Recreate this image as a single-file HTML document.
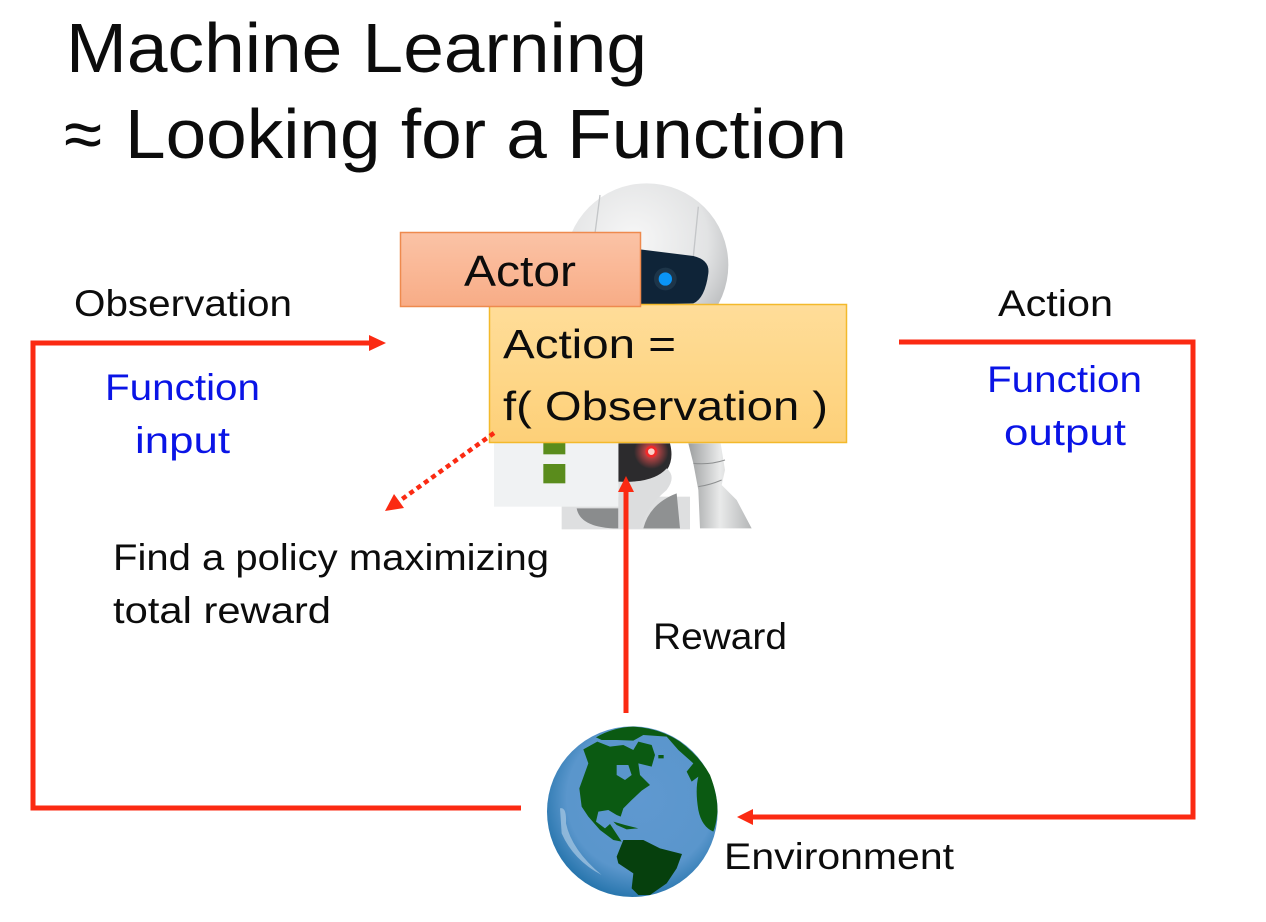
<!DOCTYPE html>
<html><head><meta charset="utf-8"><style>
html,body{margin:0;padding:0;background:#fff}
svg{display:block}
text{font-family:"Liberation Sans",sans-serif;fill:#0c0c0c}
</style></head><body>
<svg width="1266" height="922" viewBox="0 0 1266 922" xmlns="http://www.w3.org/2000/svg">
<defs>
<radialGradient id="head" cx="0.42" cy="0.35" r="0.7"><stop offset="0" stop-color="#f7f7f7"/><stop offset="0.65" stop-color="#e2e3e4"/><stop offset="1" stop-color="#b5b7b9"/></radialGradient>
<linearGradient id="actor" x1="0" y1="0" x2="0" y2="1"><stop offset="0" stop-color="#fbc3a6"/><stop offset="1" stop-color="#f8ac86"/></linearGradient>
<linearGradient id="yel" x1="0" y1="0" x2="0" y2="1"><stop offset="0" stop-color="#ffdd99"/><stop offset="1" stop-color="#fdd078"/></linearGradient>
<radialGradient id="globe" cx="0.55" cy="0.42" r="0.62"><stop offset="0" stop-color="#5f98d0"/><stop offset="0.7" stop-color="#5a96cc"/><stop offset="1" stop-color="#1f70a8"/></radialGradient>
<radialGradient id="glow"><stop offset="0.3" stop-color="#ff5050" stop-opacity=".7"/><stop offset="1" stop-color="#ff5050" stop-opacity="0"/></radialGradient>
<linearGradient id="limb" x1="0" y1="0" x2="1" y2="0"><stop offset="0" stop-color="#9d9fa0"/><stop offset="0.5" stop-color="#e9eaea"/><stop offset="1" stop-color="#b4b6b7"/></linearGradient>
</defs>
<rect width="1266" height="922" fill="#fff"/>

<text x="66" y="72" font-size="70" textLength="581" lengthAdjust="spacingAndGlyphs">Machine Learning</text>
<text x="64" y="158" font-size="70" textLength="38" lengthAdjust="spacingAndGlyphs">≈</text>
<text x="125" y="158" font-size="70" textLength="722" lengthAdjust="spacingAndGlyphs">Looking for a Function</text>

<!-- robot -->
<g transform="translate(480,170) scale(0.33333)">
<circle cx="500" cy="285" r="245" fill="url(#head)"/>
<path d="M360 75 L345 190 M655 110 L640 260" stroke="#c4c6c8" stroke-width="4" fill="none"/>
<path d="M480 238 L640 258 Q690 270 685 310 Q675 385 640 400 L480 405Z" fill="#0f2438"/>
<circle cx="556" cy="327" r="34" fill="#1d3549"/>
<circle cx="556" cy="327" r="20" fill="#0a94f5"/>
<rect x="245" y="980" width="385" height="98" fill="#dedfe0"/>
<path d="M290 1015 Q300 1070 400 1075 L415 1075 L415 1015Z" fill="#8a8c8d"/>
<path d="M490 1075 Q510 1000 590 970 L600 1075Z" fill="#8f9192"/>
<path d="M415 820 L570 820 Q590 900 520 930 L415 940Z" fill="#2c2b2d"/>
<path d="M415 935 Q520 940 560 895 Q590 920 560 960 Q500 1010 480 1075 L415 1075Z" fill="#dcddde"/>
<circle cx="514" cy="845" r="52" fill="url(#glow)"/>
<circle cx="514" cy="845" r="14" fill="#fbd0c8" stroke="#f02a2a" stroke-width="8"/>
<path d="M625 820 L722 820 L735 900 L725 945 L770 990 L815 1075 L660 1075 L655 960 L640 880Z" fill="url(#limb)"/>
<path d="M640 880 Q690 885 735 870 M655 950 Q690 945 725 930" stroke="#8d8f90" stroke-width="3" fill="none"/>
<rect x="42" y="815" width="373" height="195" fill="#f0f2f3"/>
<rect x="190" y="815" width="66" height="38" fill="#5a8c1c"/>
<rect x="190" y="882" width="66" height="58" fill="#5a8c1c"/>
</g>

<!-- boxes -->
<rect x="489.5" y="304.5" width="357" height="138" fill="url(#yel)" stroke="#f3b92b" stroke-width="1.5"/>
<rect x="400.5" y="232.5" width="240" height="74" fill="url(#actor)" stroke="#ee8a4e" stroke-width="1.5"/>
<text x="464" y="286" font-size="44" textLength="112" lengthAdjust="spacingAndGlyphs">Actor</text>
<text x="503" y="358" font-size="41" textLength="173" lengthAdjust="spacingAndGlyphs">Action =</text>
<text x="503" y="420" font-size="41" textLength="325" lengthAdjust="spacingAndGlyphs">f( Observation )</text>

<!-- connectors -->
<g fill="none" stroke="#fb2a12" stroke-width="5">
<path d="M521 808 H33 V343 H372"/>
<path d="M899 342 H1193 V817 H750"/>
<path d="M626 713 V488"/>
<path d="M494 433 L398 502" stroke-width="4.5" stroke-dasharray="5 4"/>
</g>
<g fill="#fb2a12">
<path d="M386 343 L369 335 L369 351Z"/>
<path d="M737 817 L753 809 L753 825Z"/>
<path d="M626 476 L618 492 L634 492Z"/>
<path d="M385 511 L394 494 L404 508Z"/>
</g>

<!-- globe -->
<g transform="translate(510,700) scale(0.33333)">
<circle cx="367" cy="335" r="256" fill="url(#globe)"/>
<path d="M258 112 Q310 82 370 80 Q450 85 510 125 Q570 170 600 225 Q625 290 622 340 Q618 375 610 395 Q575 380 565 330 Q555 270 565 230 L545 245 L530 215 L550 190 L505 150 L470 110 L400 105 L370 122 L320 120 L275 120Z" fill="#0b5a12"/>
<path d="M220 148 L262 125 L300 140 L340 135 L370 150 L385 125 L425 135 L435 165 L425 200 L385 190 L390 225 L420 255 L395 272 L365 300 L340 325 L332 350 L320 345 L295 330 L265 335 L258 365 L285 385 L300 372 L335 425 L310 420 L270 390 L235 350 L215 320 L208 265 L235 190Z" fill="#0b5a12"/>
<path d="M320 195 L355 195 L365 225 L345 240 L320 225Z" fill="#5a96cc"/>
<path d="M340 420 L400 420 L450 445 L516 462 L500 505 L470 550 L420 585 L385 585 L365 565 L370 520 L325 490 L320 470Z" fill="#06400d"/>
<path d="M445 165 h16 v10 h-16Z M310 365 L345 375 L385 385 L350 388 L320 375Z" fill="#0b5a12"/>
<path d="M150 325 Q170 320 168 370 Q185 450 275 525 Q190 480 155 400Z" fill="#a4c6e2" opacity=".75"/>
</g>

<!-- labels -->
<g font-size="37">
<text x="74" y="316" textLength="218" lengthAdjust="spacingAndGlyphs">Observation</text>
<text x="998" y="316" textLength="115" lengthAdjust="spacingAndGlyphs">Action</text>
<text x="105" y="400" textLength="155" lengthAdjust="spacingAndGlyphs" style="fill:#0a14e6">Function</text>
<text x="135" y="453" textLength="95" lengthAdjust="spacingAndGlyphs" style="fill:#0a14e6">input</text>
<text x="987" y="392" textLength="155" lengthAdjust="spacingAndGlyphs" style="fill:#0a14e6">Function</text>
<text x="1004" y="445" textLength="122" lengthAdjust="spacingAndGlyphs" style="fill:#0a14e6">output</text>
<text x="113" y="570" textLength="436" lengthAdjust="spacingAndGlyphs">Find a policy maximizing</text>
<text x="113" y="623" textLength="218" lengthAdjust="spacingAndGlyphs">total reward</text>
<text x="653" y="649" textLength="134" lengthAdjust="spacingAndGlyphs">Reward</text>
<text x="724" y="869" textLength="230" lengthAdjust="spacingAndGlyphs">Environment</text>
</g>
</svg>
</body></html>
